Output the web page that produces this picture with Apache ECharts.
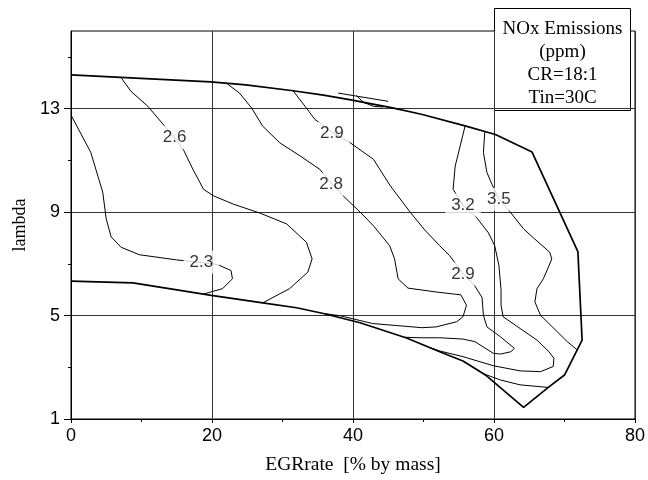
<!DOCTYPE html>
<html>
<head>
<meta charset="utf-8">
<script src="https://cdn.jsdelivr.net/npm/echarts@6/dist/echarts.min.js"></script>
<style>
  html, body { margin: 0; padding: 0; background: #fff; }
  #chart { width: 648px; height: 480px; }
</style>
</head>
<body>
<div id="chart"></div>
<script>
// Operating envelope (closed outline): EGR rate [% by mass], lambda
const envelope = [
  [0, 14.3], [9.9, 14.17], [19.8, 14.03], [24.8, 13.92], [31.5, 13.69],
  [35.8, 13.52], [39.7, 13.34], [45.6, 13.03], [49.7, 12.78], [55.9, 12.33],
  [60.2, 12.0], [65.4, 11.32], [71.9, 7.47], [72.5, 4.05], [70.0, 2.7],
  [67.7, 2.22], [64.2, 1.45], [58.9, 2.68], [55.6, 3.24], [52.3, 3.6],
  [47.6, 4.13], [41.0, 4.72], [35.8, 5.08], [32.0, 5.3], [27.2, 5.49],
  [19.9, 5.78], [8.8, 6.26], [0, 6.33]
];

// NOx iso-lines
const nox23 = [
  [0, 12.75], [2.8, 11.31], [4.5, 9.77], [5.0, 8.73], [5.7, 8.04], [7.1, 7.64],
  [9.7, 7.35], [15.0, 7.15], [18.5, 7.05], [20.8, 6.97], [22.7, 6.74],
  [22.9, 6.42], [21.5, 6.04], [18.8, 5.83]
];
const nox26 = [
  [7.1, 14.2], [8.5, 13.67], [10.9, 13.09], [13.1, 12.38], [14.7, 11.88],
  [16.0, 11.38], [17.3, 10.65], [18.8, 9.88], [20.2, 9.63], [23.0, 9.31],
  [26.9, 8.95], [30.6, 8.54], [33.4, 7.83], [34.2, 7.19], [33.6, 6.68],
  [31.0, 6.04], [27.2, 5.49]
];
const nox28 = [
  [22.0, 13.99], [23.9, 13.6], [25.6, 13.03], [27.2, 12.32], [29.6, 11.68],
  [32.5, 11.17], [35.3, 10.65], [36.9, 10.12], [38.6, 9.63], [41.0, 9.0],
  [42.9, 8.47], [45.2, 7.7], [45.9, 7.19], [46.4, 6.42], [47.8, 6.06],
  [51.8, 5.91], [55.3, 5.8], [56.1, 5.4], [55.6, 4.95], [54.7, 4.76],
  [51.8, 4.56], [49.8, 4.53], [42.8, 4.69], [38.2, 4.99], [35.8, 5.08]
];
const nox29 = [
  [31.5, 13.69], [33.2, 13.09], [34.6, 12.58], [37.0, 12.1], [39.6, 11.68],
  [42.9, 11.04], [45.3, 10.01], [48.1, 9.0], [50.2, 8.3], [52.3, 7.7],
  [53.7, 7.32], [55.6, 6.62], [57.3, 6.14], [58.3, 5.7], [58.5, 5.01],
  [59.0, 4.56], [60.9, 4.18], [62.9, 3.73], [62.4, 3.6], [60.9, 3.51],
  [59.9, 3.54], [57.3, 3.99], [55.6, 4.09], [52.3, 4.14], [49.5, 4.14],
  [47.3, 4.16]
];
const nox32 = [
  [55.9, 12.33], [55.2, 11.55], [54.5, 10.78], [54.2, 9.88], [55.6, 9.27],
  [57.5, 8.8], [59.2, 8.2], [60.1, 7.7], [60.7, 6.93], [61.0, 6.0],
  [61.0, 5.4], [61.3, 4.95], [63.7, 4.5], [66.1, 4.05], [67.8, 3.6],
  [68.5, 3.35], [68.4, 3.03], [66.6, 2.83], [63.7, 2.86], [59.9, 3.06],
  [55.6, 3.41], [52.3, 3.63], [51.0, 3.75]
];
const nox35 = [
  [58.7, 12.12], [58.5, 11.3], [59.0, 10.53], [59.7, 10.08], [60.7, 9.5],
  [62.3, 9.0], [64.2, 8.35], [65.6, 8.0], [67.9, 7.45], [68.2, 7.19],
  [67.6, 6.8], [67.0, 6.42], [66.1, 6.04], [65.8, 5.53], [66.6, 5.01],
  [68.5, 4.5], [70.4, 3.99], [71.8, 3.67]
];
const nox35Low = [
  [58.4, 2.76], [60.9, 2.51], [63.7, 2.32], [67.7, 2.22]
];
const edgeStub = [[37.9, 13.6], [45.0, 13.28]];
const edgeCurl = [[40.5, 13.5], [41.5, 13.24], [42.9, 13.09], [44.3, 13.06]];

// In-line value labels: x, lambda, text
const isoLabels = [
  [14.7, 11.88, '2.6'],
  [18.5, 7.07, '2.3'],
  [37.0, 12.04, '2.9'],
  [36.9, 10.08, '2.8'],
  [55.6, 6.61, '2.9'],
  [55.6, 9.27, '3.2'],
  [60.7, 9.5, '3.5']
];

// Axes
const xRange = [0, 80];
const yRange = [1, 16];
const yMajorTicks = [1, 5, 9, 13];
const yMinorTicks = [3, 7, 11, 15];
const infoLines = ['NOx Emissions', '(ppm)', 'CR=18:1', 'Tin=30C'];

const chart = echarts.init(document.getElementById('chart'), null, { renderer: 'canvas' });

const thin = { color: '#000', width: 1 };
const thick = { color: '#000', width: 1.7 };
function lineSeries(name, data, style) {
  return {
    name: name, type: 'line', data: data, showSymbol: false, symbol: 'none',
    lineStyle: style, silent: true, animation: false, z: 3
  };
}

const sansTick = { fontFamily: 'Liberation Sans, Arial, sans-serif', fontSize: 18, color: '#000' };
const serif = 'Liberation Serif, Times New Roman, serif';

chart.setOption({
  animation: false,
  backgroundColor: '#fff',
  grid: {
    left: 71, right: 13, top: 31, bottom: 59,
    show: true, borderColor: '#000', borderWidth: 1, backgroundColor: 'transparent'
  },
  xAxis: {
    type: 'value', min: xRange[0], max: xRange[1], interval: 20,
    name: 'EGRrate  [% by mass]', nameLocation: 'middle', nameGap: 36,
    nameTextStyle: { fontFamily: serif, fontSize: 19.5, color: '#000' },
    axisLine: { show: true, lineStyle: { color: '#000', width: 1 } },
    axisTick: { show: true, length: 4, lineStyle: { color: '#000' } },
    minorTick: { show: true, splitNumber: 2, length: 3, lineStyle: { color: '#000' } },
    splitLine: { show: true, lineStyle: { color: '#333', width: 1 } },
    axisLabel: Object.assign({ margin: 8 }, sansTick)
  },
  yAxis: [{
    type: 'value', min: yRange[0], max: yRange[1], interval: 4,
    name: 'lambda', nameLocation: 'middle', nameGap: 37, nameRotate: 90,
    nameTextStyle: { fontFamily: serif, fontSize: 18, color: '#000' },
    axisLine: { show: true, lineStyle: { color: '#000', width: 1 } },
    axisTick: { show: true, length: 7, customValues: yMajorTicks, lineStyle: { color: '#000' } },
    splitLine: { show: true, lineStyle: { color: '#333', width: 1 } },
    axisLabel: Object.assign({ margin: 11, customValues: yMajorTicks }, sansTick)
  }, {
    type: 'value', min: yRange[0], max: yRange[1], position: 'left',
    axisLine: { show: false }, axisLabel: { show: false }, splitLine: { show: false },
    axisTick: { show: true, length: 3, customValues: yMinorTicks, lineStyle: { color: '#000' } }
  }],
  graphic: [{
    type: 'group', left: 494, top: 8, z: 100,
    children: [{
      type: 'rect', shape: { x: 0, y: 0, width: 136, height: 102 },
      style: { fill: '#fff', stroke: '#000', lineWidth: 1 }
    }].concat(infoLines.map(function (t, i) {
      return {
        type: 'text', x: 68, y: 21 + i * 23,
        style: {
          text: t, fill: '#000', font: '19px ' + serif,
          textAlign: 'center', textVerticalAlign: 'middle'
        }
      };
    }))
  }],
  series: [
    lineSeries('envelope', envelope, thick),
    lineSeries('2.3', nox23, thin),
    lineSeries('2.6', nox26, thin),
    lineSeries('2.8', nox28, thin),
    lineSeries('2.9', nox29, thin),
    lineSeries('3.2', nox32, thin),
    lineSeries('3.5', nox35, thin),
    lineSeries('3.5 low', nox35Low, thin),
    lineSeries('edge', edgeStub, thin),
    lineSeries('edge curl', edgeCurl, thin),
    {
      name: 'labels', type: 'scatter', symbolSize: 0, silent: true, z: 10,
      data: isoLabels.map(function (d) { return { value: [d[0], d[1]], name: d[2] }; }),
      label: {
        show: true, position: 'inside', formatter: '{b}',
        fontFamily: 'Liberation Sans, Arial, sans-serif', fontSize: 17, color: '#000',
        backgroundColor: '#fff', padding: [3, 6]
      }
    }
  ]
});
</script>
</body>
</html>
